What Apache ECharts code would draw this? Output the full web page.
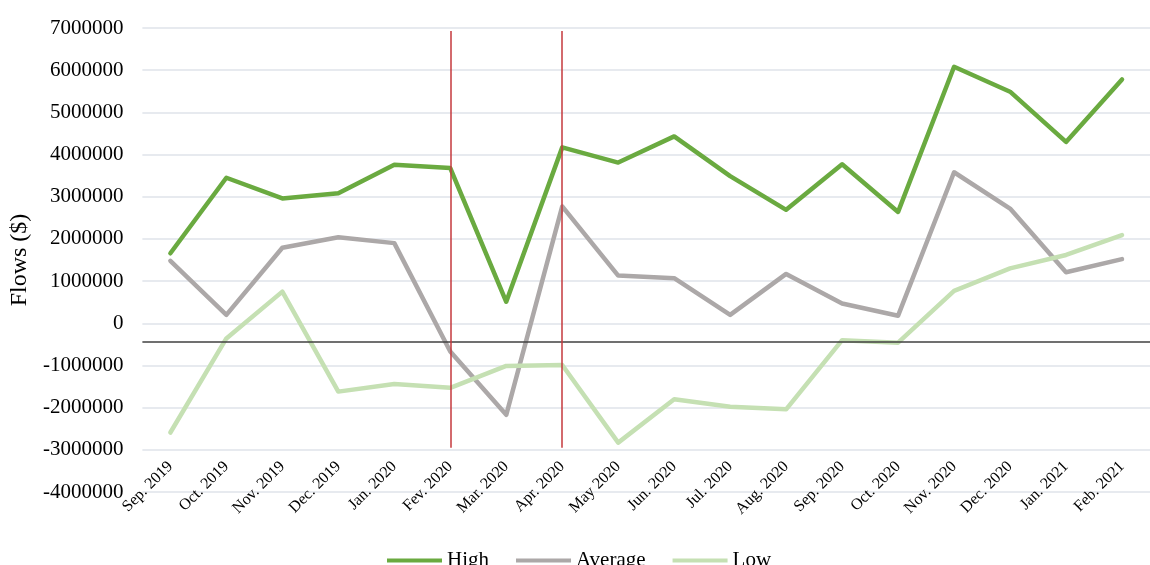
<!DOCTYPE html>
<html>
<head>
<meta charset="utf-8">
<script src="https://cdn.jsdelivr.net/npm/echarts@6/dist/echarts.min.js"></script>
<style>
  html, body { margin: 0; padding: 0; background: #fff; }
  #chart { width: 1150px; height: 565px; }
</style>
</head>
<body>
<div id="chart"></div>
<script>
// Monthly flows, Sep. 2019 – Feb. 2021
const months = ['Sep. 2019', 'Oct. 2019', 'Nov. 2019', 'Dec. 2019', 'Jan. 2020', 'Fev. 2020',
  'Mar. 2020', 'Apr. 2020', 'May 2020', 'Jun. 2020', 'Jul. 2020', 'Aug. 2020', 'Sep. 2020',
  'Oct. 2020', 'Nov. 2020', 'Dec. 2020', 'Jan. 2021', 'Feb. 2021'];

const high = [1660000, 3450000, 2960000, 3080000, 3760000, 3680000, 510000, 4170000, 3810000,
  4430000, 3490000, 2690000, 3770000, 2640000, 6080000, 5490000, 4300000, 5780000];

const average = [1480000, 200000, 1790000, 2040000, 1900000, -670000, -2170000, 2770000, 1130000,
  1070000, 200000, 1170000, 470000, 180000, 3580000, 2720000, 1210000, 1520000];

const low = [-2590000, -360000, 750000, -1620000, -1440000, -1530000, -1010000, -990000, -2830000,
  -1800000, -1980000, -2040000, -400000, -460000, 770000, 1300000, 1620000, 2090000];

// Period markers and reference level
const markerMonths = ['Fev. 2020', 'Apr. 2020'];
const markerRange = [6930000, -2950000];
const referenceLevel = -440000;

const yTicks = { min: -4000000, max: 7000000, step: 1000000 };

const serif = '"Liberation Serif", "Times New Roman", serif';

const chart = echarts.init(document.getElementById('chart'), null, { renderer: 'canvas' });

const lineSeries = (name, data, color) => ({
  name, type: 'line', data,
  symbol: 'none',
  lineStyle: { color, width: 4.5, join: 'round', cap: 'round' },
  itemStyle: { color },
  emphasis: { disabled: true }
});

const lowSeries = lineSeries('Low', low, '#c5e0b3');
lowSeries.markLine = {
  silent: true,
  symbol: 'none',
  label: { show: false },
  z: 10,
  data: [
    { yAxis: referenceLevel, lineStyle: { color: '#404040', width: 1.5, type: 'solid' } },
    ...markerMonths.map(m => [
      { coord: [m, markerRange[0]], lineStyle: { color: '#c5383c', width: 1.5, type: 'solid' } },
      { coord: [m, markerRange[1]] }
    ])
  ]
};

chart.setOption({
  animation: false,
  backgroundColor: '#ffffff',
  textStyle: { fontFamily: serif },
  grid: { left: 142, top: 28, width: 1011, height: 464, containLabel: false },
  legend: {
    left: 382, top: 545,
    icon: 'rect', itemWidth: 55, itemHeight: 4, itemGap: 27,
    textStyle: { fontFamily: serif, fontSize: 21, color: '#000' },
    data: ['High', 'Average', 'Low']
  },
  xAxis: {
    type: 'category',
    data: months,
    boundaryGap: true,
    axisLine: { show: false },
    axisTick: { show: false },
    axisLabel: {
      rotate: 45, margin: -28, interval: 0,
      fontFamily: serif, fontSize: 16, color: '#000'
    },
    splitLine: { show: false }
  },
  yAxis: {
    type: 'value',
    min: yTicks.min, max: yTicks.max, interval: yTicks.step,
    name: 'Flows ($)',
    nameLocation: 'middle',
    nameGap: 109,
    nameTextStyle: { fontFamily: serif, fontSize: 24, color: '#000' },
    axisLine: { show: false },
    axisTick: { show: false },
    axisLabel: {
      margin: 19, fontFamily: serif, fontSize: 21, color: '#000',
      formatter: v => String(v)
    },
    splitLine: { lineStyle: { color: '#dfe3ea', width: 1.5 } }
  },
  series: [
    lineSeries('High', high, '#6aaa40'),
    lineSeries('Average', average, '#aca8a8'),
    lowSeries
  ]
});
</script>
</body>
</html>
